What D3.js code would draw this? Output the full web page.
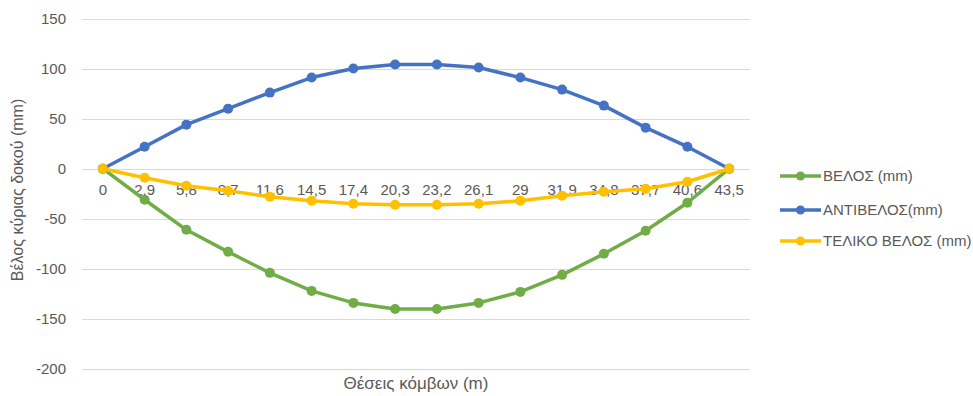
<!DOCTYPE html>
<html>
<head>
<meta charset="utf-8">
<script src="https://cdn.jsdelivr.net/npm/d3@7"></script>
<style>
  html, body { margin: 0; padding: 0; background: #fff; }
  text { font-family: "Liberation Sans", Arial, sans-serif; fill: #595959; }
</style>
</head>
<body>
<svg id="chart" width="973" height="396"></svg>
<script>
// Node positions along the beam (m)
const positions = ["0", "2,9", "5,8", "8,7", "11,6", "14,5", "17,4", "20,3", "23,2", "26,1", "29", "31,9", "34,8", "37,7", "40,6", "43,5"];

// Deflection (mm)
const velos = [0, -31, -61, -83, -104, -122, -134, -140, -140, -134, -123, -106, -85, -62, -34, 0];
// Camber (mm)
const antivelos = [0, 22, 44, 60, 76, 91, 100, 104, 104, 101, 91, 79, 63, 41, 22, 0];
// Final deflection (mm)
const telikoVelos = [0, -9, -17, -22, -28, -32, -35, -36, -36, -35, -32, -27, -23, -20, -13, 0];

const yTicks = [-200, -150, -100, -50, 0, 50, 100, 150];

const seriesNames = ["ΒΕΛΟΣ (mm)", "ΑΝΤΙΒΕΛΟΣ(mm)", "ΤΕΛΙΚΟ ΒΕΛΟΣ (mm)"];
const seriesColors = ["#70AD47", "#4472C4", "#FFC000"];

const series = [
  { name: seriesNames[0], color: seriesColors[0], values: velos },
  { name: seriesNames[1], color: seriesColors[1], values: antivelos },
  { name: seriesNames[2], color: seriesColors[2], values: telikoVelos }
];

const svg = d3.select("#chart");
const plot = { left: 82, right: 750, top: 18.5, bottom: 369 };

const x = d3.scaleBand().domain(positions).range([plot.left, plot.right]);
const y = d3.scaleLinear().domain([-200, 150]).range([plot.bottom, plot.top]);
const cx = d => x(d) + x.bandwidth() / 2;

// Horizontal gridlines
svg.append("g")
  .selectAll("line")
  .data(yTicks)
  .join("line")
  .attr("x1", plot.left).attr("x2", plot.right)
  .attr("y1", d => Math.round(y(d)) + 0.5).attr("y2", d => Math.round(y(d)) + 0.5)
  .attr("stroke", "#d9d9d9").attr("stroke-width", 1);

// Y axis labels (plain hyphen for negatives)
const yAxis = svg.append("g")
  .attr("transform", `translate(${plot.left - 16},0)`)
  .call(d3.axisLeft(y).tickValues(yTicks).tickSize(0).tickPadding(0)
    .tickFormat(d => String(d)));
yAxis.select(".domain").remove();
yAxis.selectAll("text")
  .style("font-size", "15px")
  .style("font-family", "'Liberation Sans', Arial, sans-serif")
  .attr("fill", "#595959");

// Category labels sit just under the zero line
const xAxis = svg.append("g")
  .attr("transform", `translate(0,${y(0)})`)
  .call(d3.axisBottom(x).tickSize(0).tickPadding(16));
xAxis.select(".domain").remove();
xAxis.selectAll("text")
  .style("font-size", "15px")
  .style("font-family", "'Liberation Sans', Arial, sans-serif")
  .attr("fill", "#595959");

// Series lines and markers
const line = d3.line()
  .x((d, i) => cx(positions[i]))
  .y(d => y(d));

series.forEach(s => {
  const g = svg.append("g");
  g.append("path")
    .datum(s.values)
    .attr("d", line)
    .attr("fill", "none")
    .attr("stroke", s.color)
    .attr("stroke-width", 3.5)
    .attr("stroke-linejoin", "round")
    .attr("stroke-linecap", "round");
  g.selectAll("circle")
    .data(s.values)
    .join("circle")
    .attr("cx", (d, i) => cx(positions[i]))
    .attr("cy", d => y(d))
    .attr("r", 5)
    .attr("fill", s.color);
});

// Axis titles
svg.append("text")
  .attr("x", (plot.left + plot.right) / 2)
  .attr("y", 389)
  .attr("text-anchor", "middle")
  .style("font-size", "17px")
  .text("Θέσεις κόμβων (m)");

svg.append("text")
  .attr("transform", "translate(23,190) rotate(-90)")
  .attr("text-anchor", "middle")
  .style("font-size", "16px")
  .text("Βέλος κύριας δοκού (mm)");

// Legend
const legend = svg.append("g");
const legendY = [176, 210, 241];
series.forEach((s, i) => {
  const row = legend.append("g").attr("transform", `translate(780,${legendY[i]})`);
  row.append("line")
    .attr("x1", 0).attr("x2", 41)
    .attr("y1", 0).attr("y2", 0)
    .attr("stroke", s.color).attr("stroke-width", 3.5);
  row.append("circle").attr("cx", 20.5).attr("cy", 0).attr("r", 4.5).attr("fill", s.color);
  row.append("text")
    .attr("x", 43).attr("y", 0)
    .attr("dy", "0.35em")
    .style("font-size", "15px")
    .text(s.name);
});
</script>
</body>
</html>
